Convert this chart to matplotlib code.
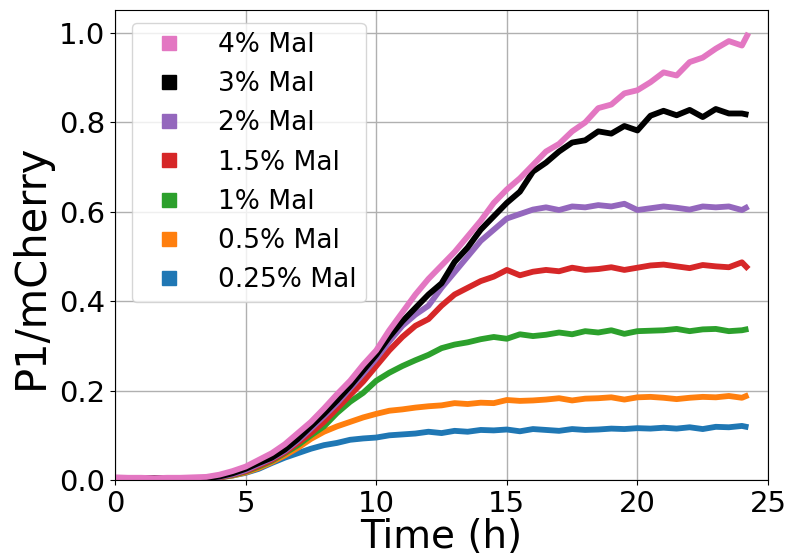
import matplotlib
matplotlib.use("Agg")
import matplotlib.pyplot as plt
from matplotlib.lines import Line2D

time_h = [0.0, 0.5, 1.0, 1.5, 2.0, 2.5, 3.0, 3.5, 4.0, 4.5,
          5.0, 5.5, 6.0, 6.5, 7.0, 7.5, 8.0, 8.5, 9.0, 9.5,
          10.0, 10.5, 11.0, 11.5, 12.0, 12.5, 13.0, 13.5, 14.0, 14.5,
          15.0, 15.5, 16.0, 16.5, 17.0, 17.5, 18.0, 18.5, 19.0, 19.5,
          20.0, 20.5, 21.0, 21.5, 22.0, 22.5, 23.0, 23.5, 24.0, 24.25]

mal_4 = [0.006, 0.005, 0.005, 0.004, 0.005, 0.005, 0.006, 0.007, 0.012, 0.020,
         0.030, 0.045, 0.060, 0.080, 0.105, 0.130, 0.160, 0.192, 0.222, 0.258,
         0.290, 0.335, 0.375, 0.415, 0.450, 0.480, 0.510, 0.545, 0.580, 0.620,
         0.650, 0.675, 0.705, 0.735, 0.752, 0.780, 0.800, 0.832, 0.840, 0.865,
         0.872, 0.890, 0.912, 0.905, 0.935, 0.945, 0.965, 0.982, 0.972, 1.000]

mal_3 = [0.004, 0.004, 0.003, 0.004, 0.004, 0.003, 0.004, 0.004, 0.008, 0.015,
         0.025, 0.038, 0.050, 0.068, 0.092, 0.120, 0.148, 0.178, 0.210, 0.245,
         0.280, 0.320, 0.355, 0.385, 0.415, 0.440, 0.488, 0.520, 0.560, 0.590,
         0.620, 0.645, 0.690, 0.710, 0.735, 0.755, 0.760, 0.780, 0.775, 0.792,
         0.782, 0.815, 0.826, 0.816, 0.828, 0.812, 0.830, 0.820, 0.820, 0.817]

mal_2 = [0.004, 0.004, 0.004, 0.003, 0.004, 0.004, 0.003, 0.004, 0.007, 0.013,
         0.022, 0.035, 0.048, 0.065, 0.088, 0.115, 0.143, 0.172, 0.205, 0.238,
         0.272, 0.310, 0.345, 0.370, 0.390, 0.430, 0.465, 0.500, 0.535, 0.560,
         0.585, 0.595, 0.605, 0.610, 0.604, 0.612, 0.610, 0.615, 0.612, 0.618,
         0.604, 0.608, 0.612, 0.609, 0.605, 0.612, 0.610, 0.612, 0.604, 0.612]

mal_15 = [0.004, 0.004, 0.004, 0.004, 0.003, 0.004, 0.004, 0.004, 0.006, 0.012,
          0.020, 0.032, 0.045, 0.062, 0.083, 0.105, 0.130, 0.160, 0.190, 0.220,
          0.255, 0.290, 0.320, 0.345, 0.360, 0.390, 0.415, 0.430, 0.445, 0.455,
          0.470, 0.458, 0.466, 0.470, 0.467, 0.475, 0.470, 0.472, 0.476, 0.470,
          0.475, 0.480, 0.482, 0.478, 0.474, 0.481, 0.478, 0.476, 0.487, 0.472]

mal_1 = [0.004, 0.004, 0.003, 0.004, 0.004, 0.004, 0.004, 0.004, 0.006, 0.011,
         0.019, 0.030, 0.043, 0.060, 0.078, 0.100, 0.120, 0.150, 0.175, 0.195,
         0.222, 0.240, 0.255, 0.268, 0.280, 0.295, 0.303, 0.308, 0.315, 0.320,
         0.316, 0.326, 0.322, 0.325, 0.330, 0.326, 0.333, 0.330, 0.335, 0.327,
         0.333, 0.334, 0.335, 0.338, 0.333, 0.337, 0.338, 0.333, 0.335, 0.338]

mal_05 = [0.004, 0.004, 0.004, 0.004, 0.004, 0.003, 0.004, 0.004, 0.006, 0.010,
          0.017, 0.027, 0.040, 0.055, 0.072, 0.092, 0.108, 0.120, 0.130, 0.140,
          0.148, 0.155, 0.158, 0.162, 0.165, 0.167, 0.172, 0.170, 0.173, 0.172,
          0.179, 0.177, 0.178, 0.180, 0.183, 0.178, 0.182, 0.183, 0.185, 0.180,
          0.185, 0.186, 0.184, 0.181, 0.184, 0.186, 0.185, 0.188, 0.184, 0.190]

mal_025 = [0.004, 0.004, 0.004, 0.004, 0.004, 0.004, 0.004, 0.004, 0.006, 0.010,
           0.016, 0.025, 0.038, 0.050, 0.060, 0.070, 0.078, 0.083, 0.090, 0.093,
           0.095, 0.100, 0.102, 0.104, 0.108, 0.105, 0.110, 0.108, 0.112, 0.111,
           0.113, 0.109, 0.114, 0.112, 0.110, 0.114, 0.112, 0.113, 0.115, 0.114,
           0.116, 0.115, 0.117, 0.115, 0.118, 0.114, 0.119, 0.118, 0.121, 0.118]

labels = ["4% Mal", "3% Mal", "2% Mal", "1.5% Mal", "1% Mal", "0.5% Mal", "0.25% Mal"]
series = [mal_4, mal_3, mal_2, mal_15, mal_1, mal_05, mal_025]
colors = ["#e377c2", "#000000", "#9467bd", "#d62728", "#2ca02c", "#ff7f0e", "#1f77b4"]

fig = plt.figure(figsize=(7.9, 5.59), dpi=100)
ax = fig.add_axes([0.1456, 0.1413, 0.8266, 0.8408])

for vals, col in zip(series[::-1], colors[::-1]):
    ax.plot(time_h, vals, color=col, lw=4.2, solid_capstyle="butt")

ax.set_xlim(0, 25)
ax.set_ylim(0, 1.0515)
ax.set_xticks([0, 5, 10, 15, 20, 25])
ax.set_yticks([0.0, 0.2, 0.4, 0.6, 0.8, 1.0])
ax.tick_params(labelsize=21)
ax.grid(True, color="#b0b0b0", lw=1.0)
ax.set_axisbelow(True)
ax.set_xlabel("Time (h)", fontsize=28, labelpad=0)
ax.set_ylabel("P1/mCherry", fontsize=30)
ax.yaxis.set_label_coords(-0.097, 0.455)

handles = [Line2D([], [], color=c, marker="s", ls="none", markersize=9.5) for c in colors]
ax.legend(handles, labels, loc="upper left", fontsize=19, handlelength=2.1,
          handletextpad=0.8, labelspacing=0.5, borderpad=0.35,
          bbox_to_anchor=(0.006, 1.001))

fig.savefig("out.png", dpi=100)
